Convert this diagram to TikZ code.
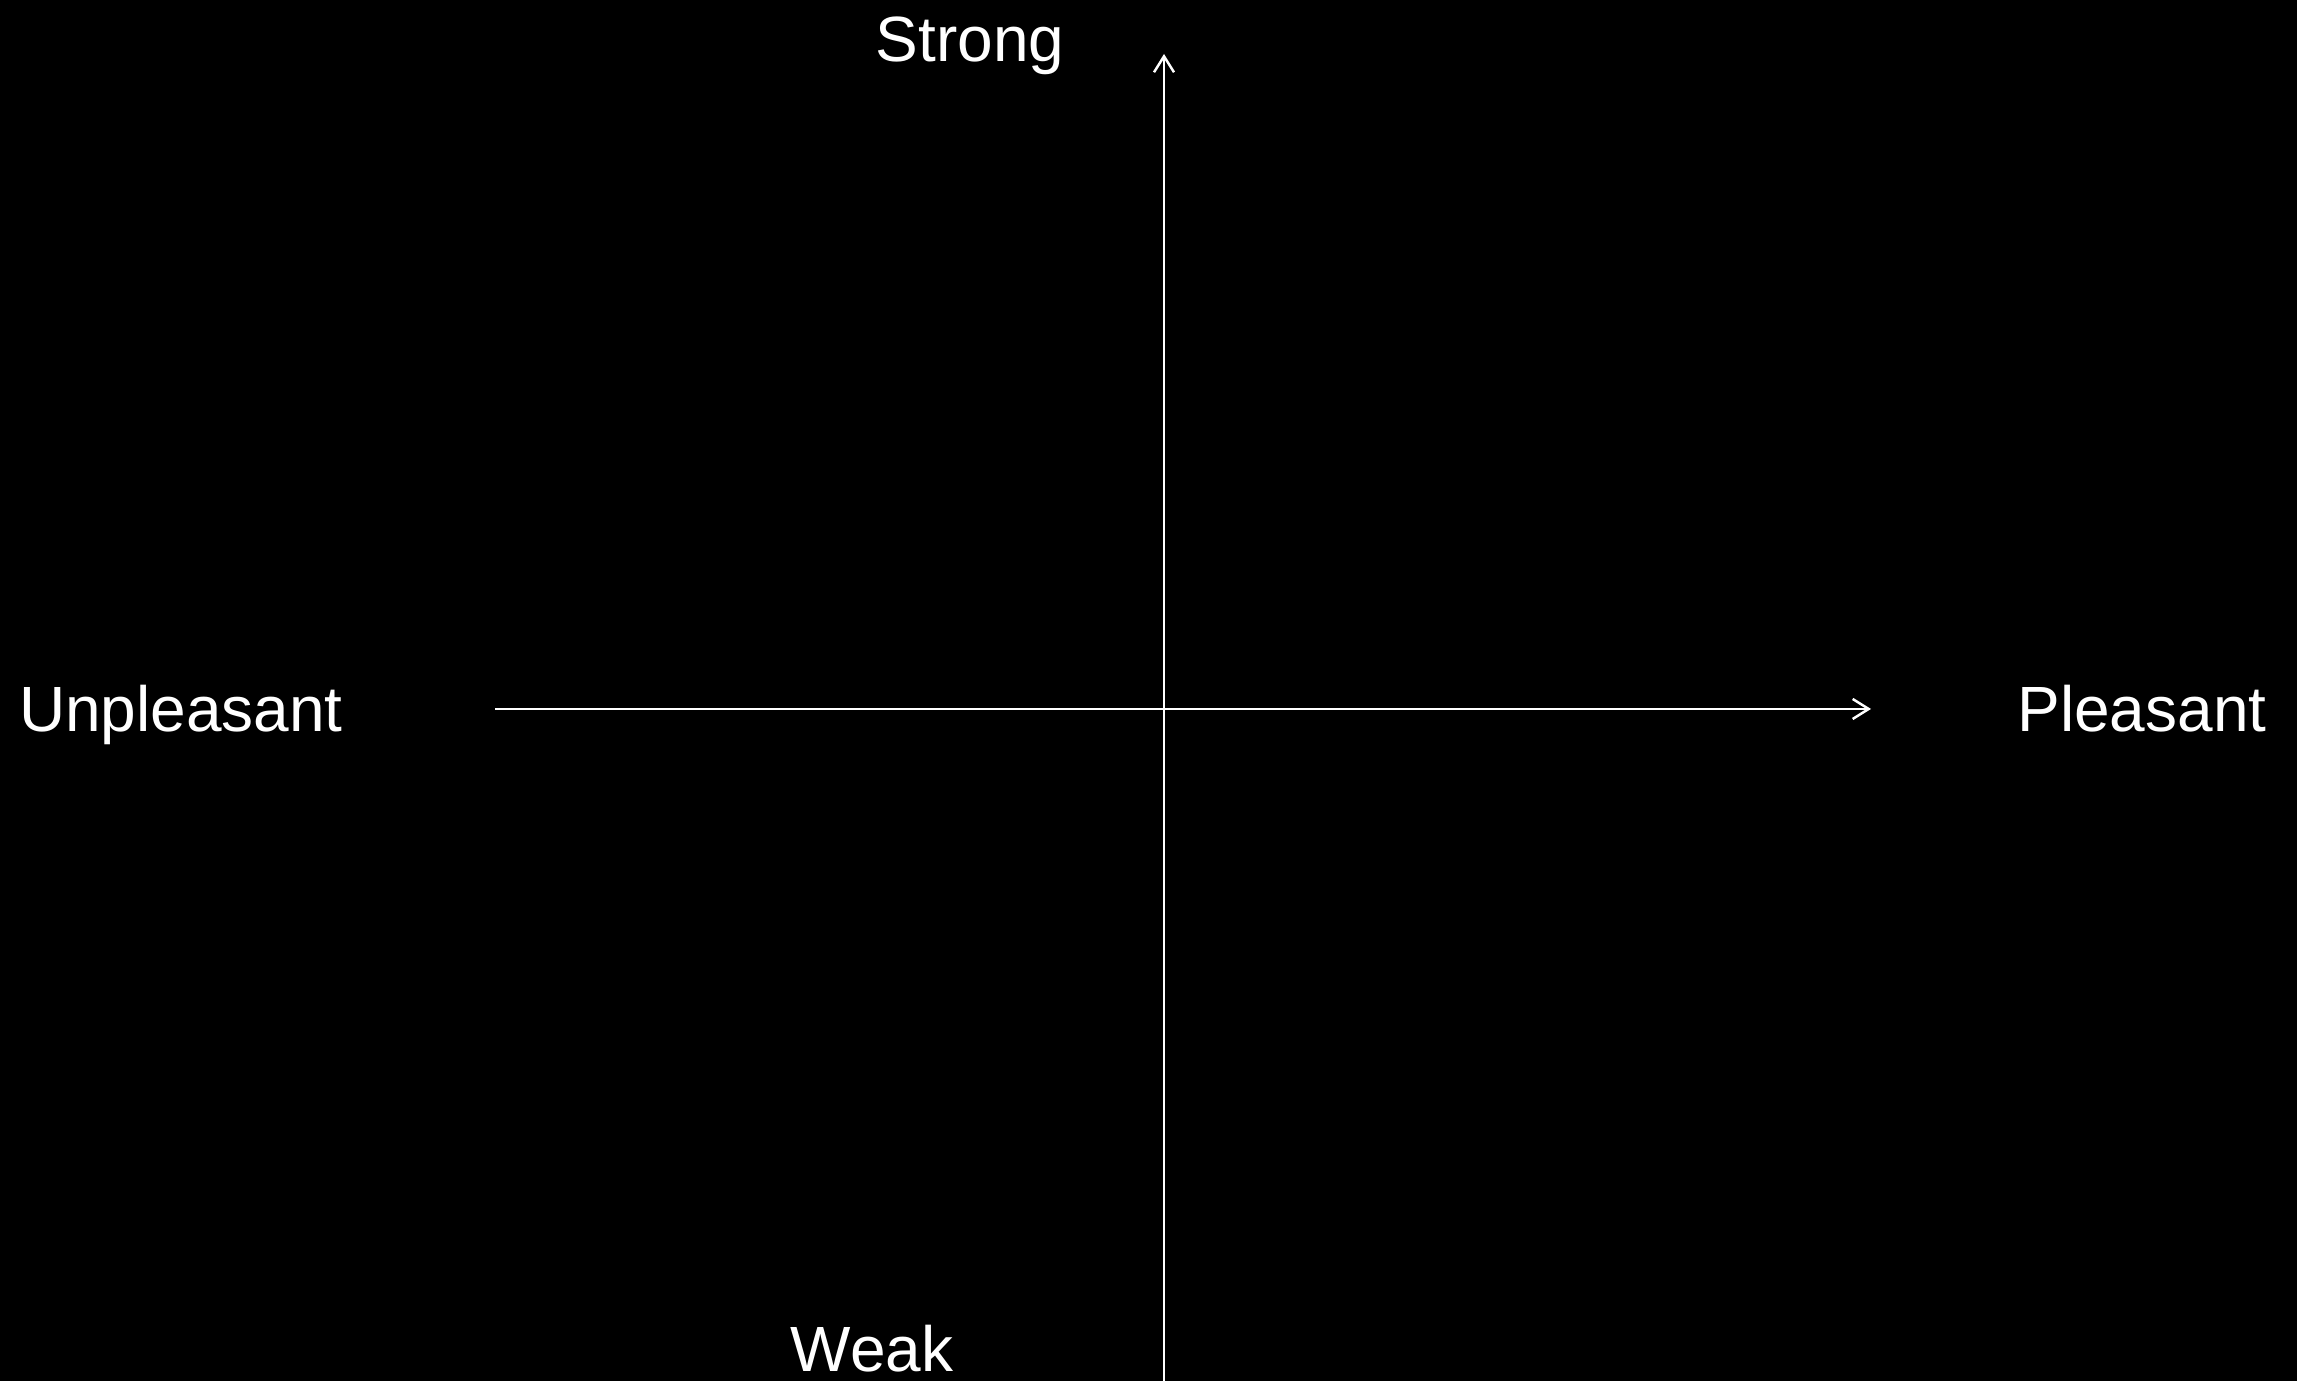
\documentclass[tikz,border=0pt]{standalone}
\usepackage{fontspec}
\setmainfont{Liberation Sans}
\usetikzlibrary{arrows.meta}
\begin{document}
\begin{tikzpicture}[x=1cm,y=1cm,>={Straight Barb[length=1.6mm,width=2mm]},line width=0.7pt]
  \tikzstyle{axislabel}=[text=white, inner sep=0pt, anchor=base, font=\fontsize{18.2}{20}\selectfont]

  \fill[black] (0,0) rectangle (22.97,13.81);
  \useasboundingbox (0,0) rectangle (22.97,13.81);

  \coordinate (west) at (4.95,6.72);
  \coordinate (east) at (18.71,6.72);
  \coordinate (south) at (11.64,0);
  \coordinate (north) at (11.64,13.27);

  \node[axislabel] (strong) at (9.70,13.19) {Strong};
  \node[axislabel,text depth=0pt] (weak) at (8.72,0.09) {Weak};
  \node[axislabel] (unpleasant) at (1.81,6.49) {Unpleasant};
  \node[axislabel] (pleasant) at (21.42,6.49) {Pleasant};

  \draw[->,white] (west) -- (east);
  \draw[->,white] (south) -- (north);
\end{tikzpicture}
\end{document}
